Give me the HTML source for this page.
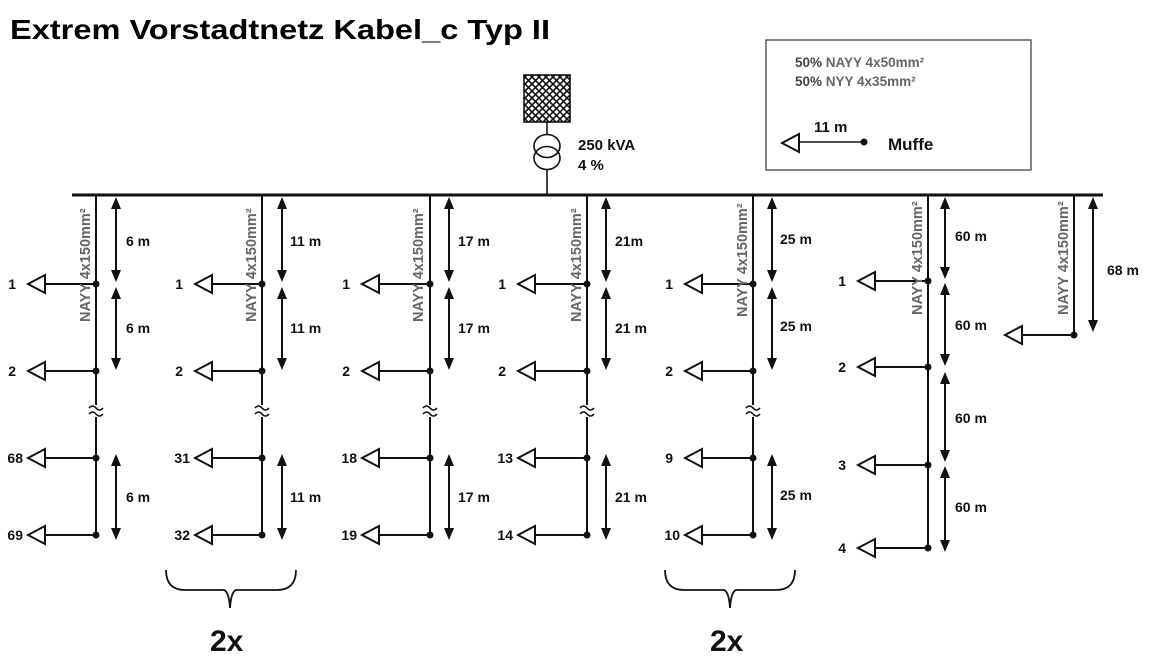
<!DOCTYPE html>
<html><head><meta charset="utf-8"><style>
html,body{margin:0;padding:0;background:#fff;}
svg{display:block;font-family:"Liberation Sans",Arial,sans-serif;}
.b{font-weight:bold;font-size:14px;fill:#111;}
.v{font-weight:bold;font-size:14.5px;fill:#666;}
</style></head><body>
<svg width="1152" height="660" viewBox="0 0 1152 660" xmlns="http://www.w3.org/2000/svg">
<defs>
<pattern id="h" width="7" height="7" patternUnits="userSpaceOnUse">
<rect width="7" height="7" fill="#fff"/>
<path d="M0,0L7,7M7,0L0,7" stroke="#111" stroke-width="1.6"/>
</pattern>
<g id="tri"><polygon points="0,0 17,-9 17,9" fill="#fff" stroke="#111" stroke-width="2"/></g>
<g id="up"><polygon points="0,0 -5,12 5,12" fill="#111"/></g>
<g id="dn"><polygon points="0,0 -5,-12 5,-12" fill="#111"/></g>
</defs>

<text x="10" y="39" font-size="28" font-weight="bold" fill="#000" textLength="540" lengthAdjust="spacingAndGlyphs">Extrem Vorstadtnetz Kabel_c Typ II</text>

<line x1="72" y1="195" x2="1103" y2="195" stroke="#111" stroke-width="3"/>

<rect x="524" y="75" width="46" height="47" fill="url(#h)" stroke="#111" stroke-width="1.6"/>
<line x1="547" y1="122" x2="547" y2="134" stroke="#111" stroke-width="1.6"/>
<ellipse cx="547" cy="146" rx="13" ry="11.5" fill="none" stroke="#111" stroke-width="1.6"/>
<ellipse cx="547" cy="158" rx="13" ry="11.5" fill="none" stroke="#111" stroke-width="1.6"/>
<line x1="547" y1="170" x2="547" y2="195" stroke="#111" stroke-width="1.6"/>
<text x="578" y="150" font-size="15" font-weight="bold" fill="#111">250 kVA</text>
<text x="578" y="170" font-size="15" font-weight="bold" fill="#111">4 %</text>

<rect x="766" y="40" width="265" height="130" fill="#fff" stroke="#444" stroke-width="1.3"/>
<text x="795" y="67" font-size="13.5" font-weight="bold" fill="#444">50% <tspan fill="#666">NAYY 4x50mm²</tspan></text>
<text x="795" y="86" font-size="13.5" font-weight="bold" fill="#444">50% <tspan fill="#666">NYY 4x35mm²</tspan></text>
<use href="#tri" x="782" y="143"/>
<line x1="799" y1="142" x2="864" y2="142" stroke="#111" stroke-width="1.6"/>
<circle cx="864" cy="142" r="3.5" fill="#111"/>
<text x="814" y="132" font-size="15" font-weight="bold" fill="#111">11  m</text>
<text x="888" y="150" font-size="17" font-weight="bold" fill="#111">Muffe</text>

<g stroke="#111" stroke-width="2" fill="none">
<line x1="96" y1="195" x2="96" y2="535"/>
<line x1="262" y1="195" x2="262" y2="535"/>
<line x1="430" y1="195" x2="430" y2="535"/>
<line x1="587" y1="195" x2="587" y2="535"/>
<line x1="753" y1="195" x2="753" y2="535"/>
<line x1="928" y1="195" x2="928" y2="548"/>
<line x1="1074" y1="195" x2="1074" y2="335"/>
</g>

<g fill="#fff"><rect x="94" y="405" width="4" height="12"/><rect x="260" y="405" width="4" height="12"/><rect x="428" y="405" width="4" height="12"/><rect x="585" y="405" width="4" height="12"/><rect x="751" y="405" width="4" height="12"/></g>
<g stroke="#111" stroke-width="1.6" fill="none">
<path d="M89,408 q3.5,-4 7,0 t7,0 M89,414 q3.5,-4 7,0 t7,0"/>
<path d="M255,408 q3.5,-4 7,0 t7,0 M255,414 q3.5,-4 7,0 t7,0"/>
<path d="M423,408 q3.5,-4 7,0 t7,0 M423,414 q3.5,-4 7,0 t7,0"/>
<path d="M580,408 q3.5,-4 7,0 t7,0 M580,414 q3.5,-4 7,0 t7,0"/>
<path d="M746,408 q3.5,-4 7,0 t7,0 M746,414 q3.5,-4 7,0 t7,0"/>
</g>

<g stroke="#111" stroke-width="2">
<line x1="45" y1="284" x2="96" y2="284"/><line x1="45" y1="371" x2="96" y2="371"/><line x1="45" y1="458" x2="96" y2="458"/><line x1="45" y1="535" x2="96" y2="535"/>
<line x1="212" y1="284" x2="262" y2="284"/><line x1="212" y1="371" x2="262" y2="371"/><line x1="212" y1="458" x2="262" y2="458"/><line x1="212" y1="535" x2="262" y2="535"/>
<line x1="379" y1="284" x2="430" y2="284"/><line x1="379" y1="371" x2="430" y2="371"/><line x1="379" y1="458" x2="430" y2="458"/><line x1="379" y1="535" x2="430" y2="535"/>
<line x1="535" y1="284" x2="587" y2="284"/><line x1="535" y1="371" x2="587" y2="371"/><line x1="535" y1="458" x2="587" y2="458"/><line x1="535" y1="535" x2="587" y2="535"/>
<line x1="702" y1="284" x2="753" y2="284"/><line x1="702" y1="371" x2="753" y2="371"/><line x1="702" y1="458" x2="753" y2="458"/><line x1="702" y1="535" x2="753" y2="535"/>
<line x1="875" y1="281" x2="928" y2="281"/><line x1="875" y1="367" x2="928" y2="367"/><line x1="875" y1="465" x2="928" y2="465"/><line x1="875" y1="548" x2="928" y2="548"/>
<line x1="1022" y1="335" x2="1074" y2="335"/>
</g>
<use href="#tri" x="28" y="284"/><use href="#tri" x="28" y="371"/><use href="#tri" x="28" y="458"/><use href="#tri" x="28" y="535"/>
<use href="#tri" x="195" y="284"/><use href="#tri" x="195" y="371"/><use href="#tri" x="195" y="458"/><use href="#tri" x="195" y="535"/>
<use href="#tri" x="362" y="284"/><use href="#tri" x="362" y="371"/><use href="#tri" x="362" y="458"/><use href="#tri" x="362" y="535"/>
<use href="#tri" x="518" y="284"/><use href="#tri" x="518" y="371"/><use href="#tri" x="518" y="458"/><use href="#tri" x="518" y="535"/>
<use href="#tri" x="685" y="284"/><use href="#tri" x="685" y="371"/><use href="#tri" x="685" y="458"/><use href="#tri" x="685" y="535"/>
<use href="#tri" x="858" y="281"/><use href="#tri" x="858" y="367"/><use href="#tri" x="858" y="465"/><use href="#tri" x="858" y="548"/>
<use href="#tri" x="1005" y="335"/>
<g fill="#111">
<circle cx="96" cy="284" r="3.5"/><circle cx="96" cy="371" r="3.5"/><circle cx="96" cy="458" r="3.5"/><circle cx="96" cy="535" r="3.5"/>
<circle cx="262" cy="284" r="3.5"/><circle cx="262" cy="371" r="3.5"/><circle cx="262" cy="458" r="3.5"/><circle cx="262" cy="535" r="3.5"/>
<circle cx="430" cy="284" r="3.5"/><circle cx="430" cy="371" r="3.5"/><circle cx="430" cy="458" r="3.5"/><circle cx="430" cy="535" r="3.5"/>
<circle cx="587" cy="284" r="3.5"/><circle cx="587" cy="371" r="3.5"/><circle cx="587" cy="458" r="3.5"/><circle cx="587" cy="535" r="3.5"/>
<circle cx="753" cy="284" r="3.5"/><circle cx="753" cy="371" r="3.5"/><circle cx="753" cy="458" r="3.5"/><circle cx="753" cy="535" r="3.5"/>
<circle cx="928" cy="281" r="3.5"/><circle cx="928" cy="367" r="3.5"/><circle cx="928" cy="465" r="3.5"/><circle cx="928" cy="548" r="3.5"/>
<circle cx="1074" cy="335" r="3.5"/>
</g>
<g class="b" text-anchor="end">
<text x="16" y="289">1</text><text x="16" y="376">2</text><text x="23" y="463">68</text><text x="23" y="540">69</text>
<text x="183" y="289">1</text><text x="183" y="376">2</text><text x="190" y="463">31</text><text x="190" y="540">32</text>
<text x="350" y="289">1</text><text x="350" y="376">2</text><text x="357" y="463">18</text><text x="357" y="540">19</text>
<text x="506" y="289">1</text><text x="506" y="376">2</text><text x="513" y="463">13</text><text x="513" y="540">14</text>
<text x="673" y="289">1</text><text x="673" y="376">2</text><text x="673" y="463">9</text><text x="680" y="540">10</text>
<text x="846" y="286">1</text><text x="846" y="372">2</text><text x="846" y="470">3</text><text x="846" y="553">4</text>
</g>

<g stroke="#111" stroke-width="2">
<line x1="116" y1="200" x2="116" y2="278"/><line x1="116" y1="290" x2="116" y2="366"/><line x1="116" y1="458" x2="116" y2="535"/>
<line x1="282" y1="200" x2="282" y2="278"/><line x1="282" y1="290" x2="282" y2="366"/><line x1="282" y1="458" x2="282" y2="535"/>
<line x1="449" y1="200" x2="449" y2="278"/><line x1="449" y1="290" x2="449" y2="366"/><line x1="449" y1="458" x2="449" y2="535"/>
<line x1="606" y1="200" x2="606" y2="278"/><line x1="606" y1="290" x2="606" y2="366"/><line x1="606" y1="458" x2="606" y2="535"/>
<line x1="772" y1="200" x2="772" y2="278"/><line x1="772" y1="290" x2="772" y2="366"/><line x1="772" y1="458" x2="772" y2="535"/>
<line x1="945" y1="200" x2="945" y2="275"/><line x1="945" y1="287" x2="945" y2="362"/><line x1="945" y1="376" x2="945" y2="458"/><line x1="945" y1="470" x2="945" y2="548"/>
<line x1="1093" y1="200" x2="1093" y2="328"/>
</g>
<g>
<use href="#up" x="116" y="197"/><use href="#dn" x="116" y="282"/><use href="#up" x="116" y="287"/><use href="#dn" x="116" y="370"/><use href="#up" x="116" y="454"/><use href="#dn" x="116" y="540"/>
<use href="#up" x="282" y="197"/><use href="#dn" x="282" y="282"/><use href="#up" x="282" y="287"/><use href="#dn" x="282" y="370"/><use href="#up" x="282" y="454"/><use href="#dn" x="282" y="540"/>
<use href="#up" x="449" y="197"/><use href="#dn" x="449" y="282"/><use href="#up" x="449" y="287"/><use href="#dn" x="449" y="370"/><use href="#up" x="449" y="454"/><use href="#dn" x="449" y="540"/>
<use href="#up" x="606" y="197"/><use href="#dn" x="606" y="282"/><use href="#up" x="606" y="287"/><use href="#dn" x="606" y="370"/><use href="#up" x="606" y="454"/><use href="#dn" x="606" y="540"/>
<use href="#up" x="772" y="197"/><use href="#dn" x="772" y="282"/><use href="#up" x="772" y="287"/><use href="#dn" x="772" y="370"/><use href="#up" x="772" y="454"/><use href="#dn" x="772" y="540"/>
<use href="#up" x="945" y="197"/><use href="#dn" x="945" y="279"/><use href="#up" x="945" y="283"/><use href="#dn" x="945" y="366"/><use href="#up" x="945" y="372"/><use href="#dn" x="945" y="462"/><use href="#up" x="945" y="466"/><use href="#dn" x="945" y="552"/>
<use href="#up" x="1093" y="197"/><use href="#dn" x="1093" y="332"/>
</g>
<g class="b">
<text x="126" y="246">6 m</text><text x="126" y="333">6 m</text><text x="126" y="502">6 m</text>
<text x="290" y="246">11 m</text><text x="290" y="333">11 m</text><text x="290" y="502">11 m</text>
<text x="458" y="246">17 m</text><text x="458" y="333">17 m</text><text x="458" y="502">17 m</text>
<text x="615" y="246">21m</text><text x="615" y="333">21 m</text><text x="615" y="502">21 m</text>
<text x="780" y="244">25 m</text><text x="780" y="331">25 m</text><text x="780" y="500">25 m</text>
<text x="955" y="241">60 m</text><text x="955" y="330">60 m</text><text x="955" y="423">60 m</text><text x="955" y="512">60 m</text>
<text x="1107" y="275">68 m</text>
</g>

<g class="v">
<text transform="translate(90,322) rotate(-90)">NAYY 4x150mm²</text>
<text transform="translate(256,322) rotate(-90)">NAYY 4x150mm²</text>
<text transform="translate(423,322) rotate(-90)">NAYY 4x150mm²</text>
<text transform="translate(581,322) rotate(-90)">NAYY 4x150mm²</text>
<text transform="translate(747,317) rotate(-90)">NAYY 4x150mm²</text>
<text transform="translate(922,315) rotate(-90)">NAYY 4x150mm²</text>
<text transform="translate(1068,315) rotate(-90)">NAYY 4x150mm²</text>
</g>

<g stroke="#111" stroke-width="1.8" fill="none">
<path d="M166,570 Q166,590 185,590 L224,590 Q229,592 230,608 Q231,592 236,590 L277,590 Q296,590 296,570"/>
<path d="M665,570 Q665,590 684,590 L724,590 Q729,592 730,608 Q731,592 736,590 L776,590 Q795,590 795,570"/>
</g>
<text x="210" y="651" font-size="30" font-weight="bold" fill="#111">2x</text>
<text x="710" y="651" font-size="30" font-weight="bold" fill="#111">2x</text>
</svg>
</body></html>
